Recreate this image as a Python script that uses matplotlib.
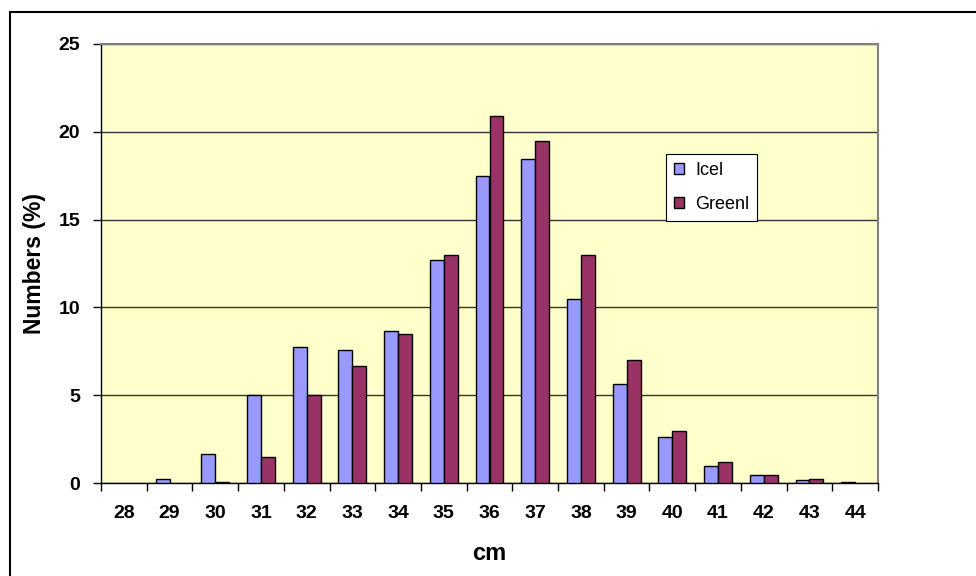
import matplotlib
matplotlib.use("Agg")
import matplotlib.pyplot as plt
import numpy as np
from matplotlib.patches import Rectangle, Patch

categories = ["28", "29", "30", "31", "32", "33", "34", "35", "36", "37", "38", "39", "40", "41", "42", "43", "44"]
icel = [0.0, 0.25, 1.65, 5.0, 7.75, 7.6, 8.65, 12.7, 17.5, 18.45, 10.5, 5.65, 2.6, 0.95, 0.45, 0.15, 0.08]
greenl = [0.0, 0.0, 0.08, 1.5, 5.0, 6.65, 8.5, 13.0, 20.9, 19.5, 13.0, 7.0, 2.95, 1.2, 0.45, 0.25, 0.0]
series_names = ["Icel", "Greenl"]
yticks = [0, 5, 10, 15, 20, 25]

plt.rcParams['font.family'] = ['Liberation Sans', 'DejaVu Sans']

fig = plt.figure(figsize=(9.76, 5.76), dpi=100)
W, H = 976, 576
ax = fig.add_axes([101 / W, 1 - 483 / H, (878 - 101) / W, (483 - 44) / H])
ax.set_facecolor('#FFFFCC')

# outer chart border (extends past right and bottom edges)
fig.patches.append(Rectangle((10 / W, -0.1), 1.2, (1 - 12 / H) + 0.1,
                             transform=fig.transFigure, fill=False,
                             edgecolor='black', linewidth=1.5, zorder=0))

x = np.arange(len(categories))
bw = 0.305
icel_arr = np.array(icel)
greenl_arr = np.array(greenl)
colors = ['#9999FF', '#993366']
ax.bar(x - bw / 2, icel_arr, bw, color=colors[0],
       edgecolor=['black' if v > 0 else 'none' for v in icel_arr], linewidth=1.0, zorder=3)
ax.bar(x + bw / 2, greenl_arr, bw, color=colors[1],
       edgecolor=['black' if v > 0 else 'none' for v in greenl_arr], linewidth=1.0, zorder=3)

ax.set_xlim(-0.5, len(categories) - 0.5)
ax.set_ylim(0, 25)
ax.set_yticks(yticks)
ax.set_yticklabels([str(v) for v in yticks], fontsize=14, fontweight='bold')
ax.yaxis.grid(True, color='#333333', linewidth=1.0, zorder=1)
ax.set_axisbelow(True)

ax.set_xticks(np.arange(-0.5, len(categories), 1.0))
ax.set_xticklabels([])
ax.set_xticks(x, minor=True)
ax.set_xticklabels(categories, minor=True, fontsize=14, fontweight='bold')
ax.tick_params(axis='x', which='major', direction='out', length=6, width=1, color='black')
ax.tick_params(axis='x', which='minor', length=0, pad=16)
ax.tick_params(axis='y', direction='out', length=6, width=1, pad=9)

for s in ['top', 'right']:
    ax.spines[s].set_color('#808080')
    ax.spines[s].set_linewidth(1.5)
for s in ['left', 'bottom']:
    ax.spines[s].set_color('black')
    ax.spines[s].set_linewidth(1.0)

ax.set_xlabel('cm', fontsize=17, fontweight='bold', labelpad=14)
ax.set_ylabel('Numbers (%)', fontsize=16.5, fontweight='bold', labelpad=9)

handles = [Patch(facecolor=c, edgecolor='black', linewidth=1.0) for c in colors]
leg = ax.legend(handles, series_names, loc='upper left',
                bbox_to_anchor=((666 - 101) / (878 - 101), 1 - (154 - 44) / (483 - 44)),
                fontsize=13, frameon=True, fancybox=False, edgecolor='black',
                framealpha=1.0, handlelength=0.55, handleheight=0.55, handletextpad=0.6,
                borderpad=0.45, labelspacing=0.95, borderaxespad=0)
leg.get_frame().set_linewidth(0.8)

fig.savefig('out.png', dpi=100)
